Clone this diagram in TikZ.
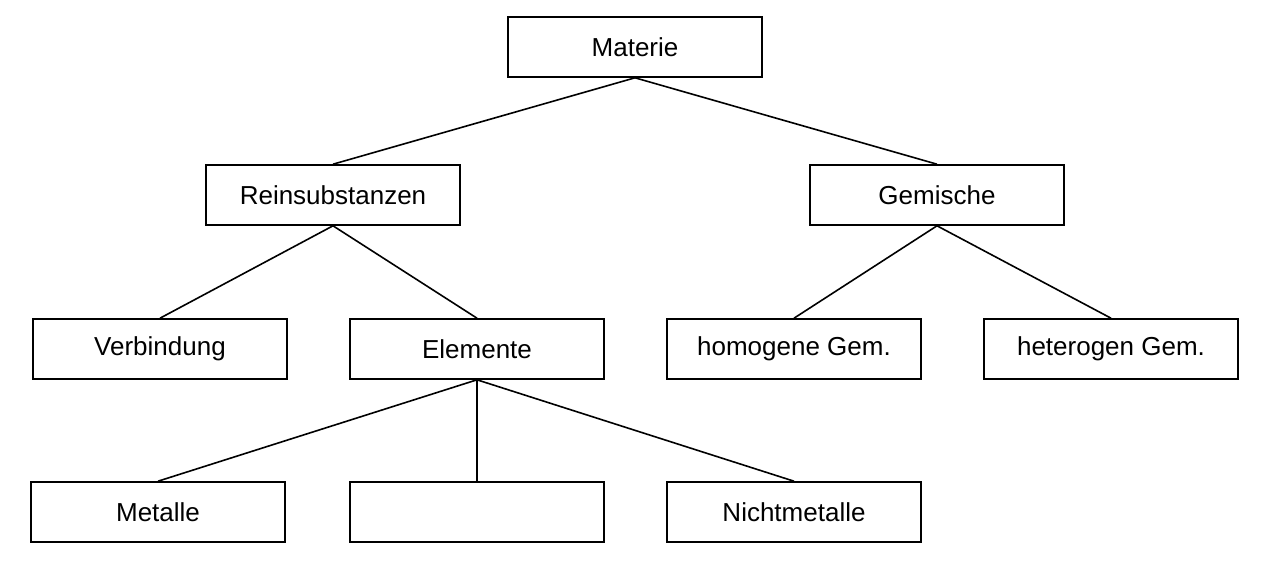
\documentclass[tikz,border=0pt]{standalone}
\usepackage{fontspec}
\setmainfont{Liberation Sans}
\begin{document}
\begin{tikzpicture}[x=1pt,y=-1pt,
  box/.style={draw,line width=1.6pt,minimum width=254pt,minimum height=60pt,inner sep=0pt,font=\fontsize{26}{30}\selectfont},
  link/.style={line width=1.6pt}]
\useasboundingbox (0,0) rectangle (1265,567);
\node[box] (mat) at (635,47) {Materie};
\node[box] (rein) at (333,195) {Reinsubstanzen};
\node[box] (gem) at (937,195) {Gemische};
\node[box] (ver) at (160,349) {Verbindung};
\node[box] (ele) at (477,349) {Elemente};
\node[box] (hom) at (794,349) {homogene Gem.};
\node[box] (het) at (1111,349) {heterogen Gem.};
\node[box] (met) at (158,512) {Metalle};
\node[box] (emp) at (477,512) {};
\node[box] (nic) at (794,512) {Nichtmetalle};
\draw[link] (mat.south) -- (rein.north);
\draw[link] (mat.south) -- (gem.north);
\draw[link] (rein.south) -- (ver.north);
\draw[link] (rein.south) -- (ele.north);
\draw[link] (gem.south) -- (hom.north);
\draw[link] (gem.south) -- (het.north);
\draw[link] (ele.south) -- (met.north);
\draw[link] (ele.south) -- (emp.north);
\draw[link] (ele.south) -- (nic.north);
\end{tikzpicture}
\end{document}
